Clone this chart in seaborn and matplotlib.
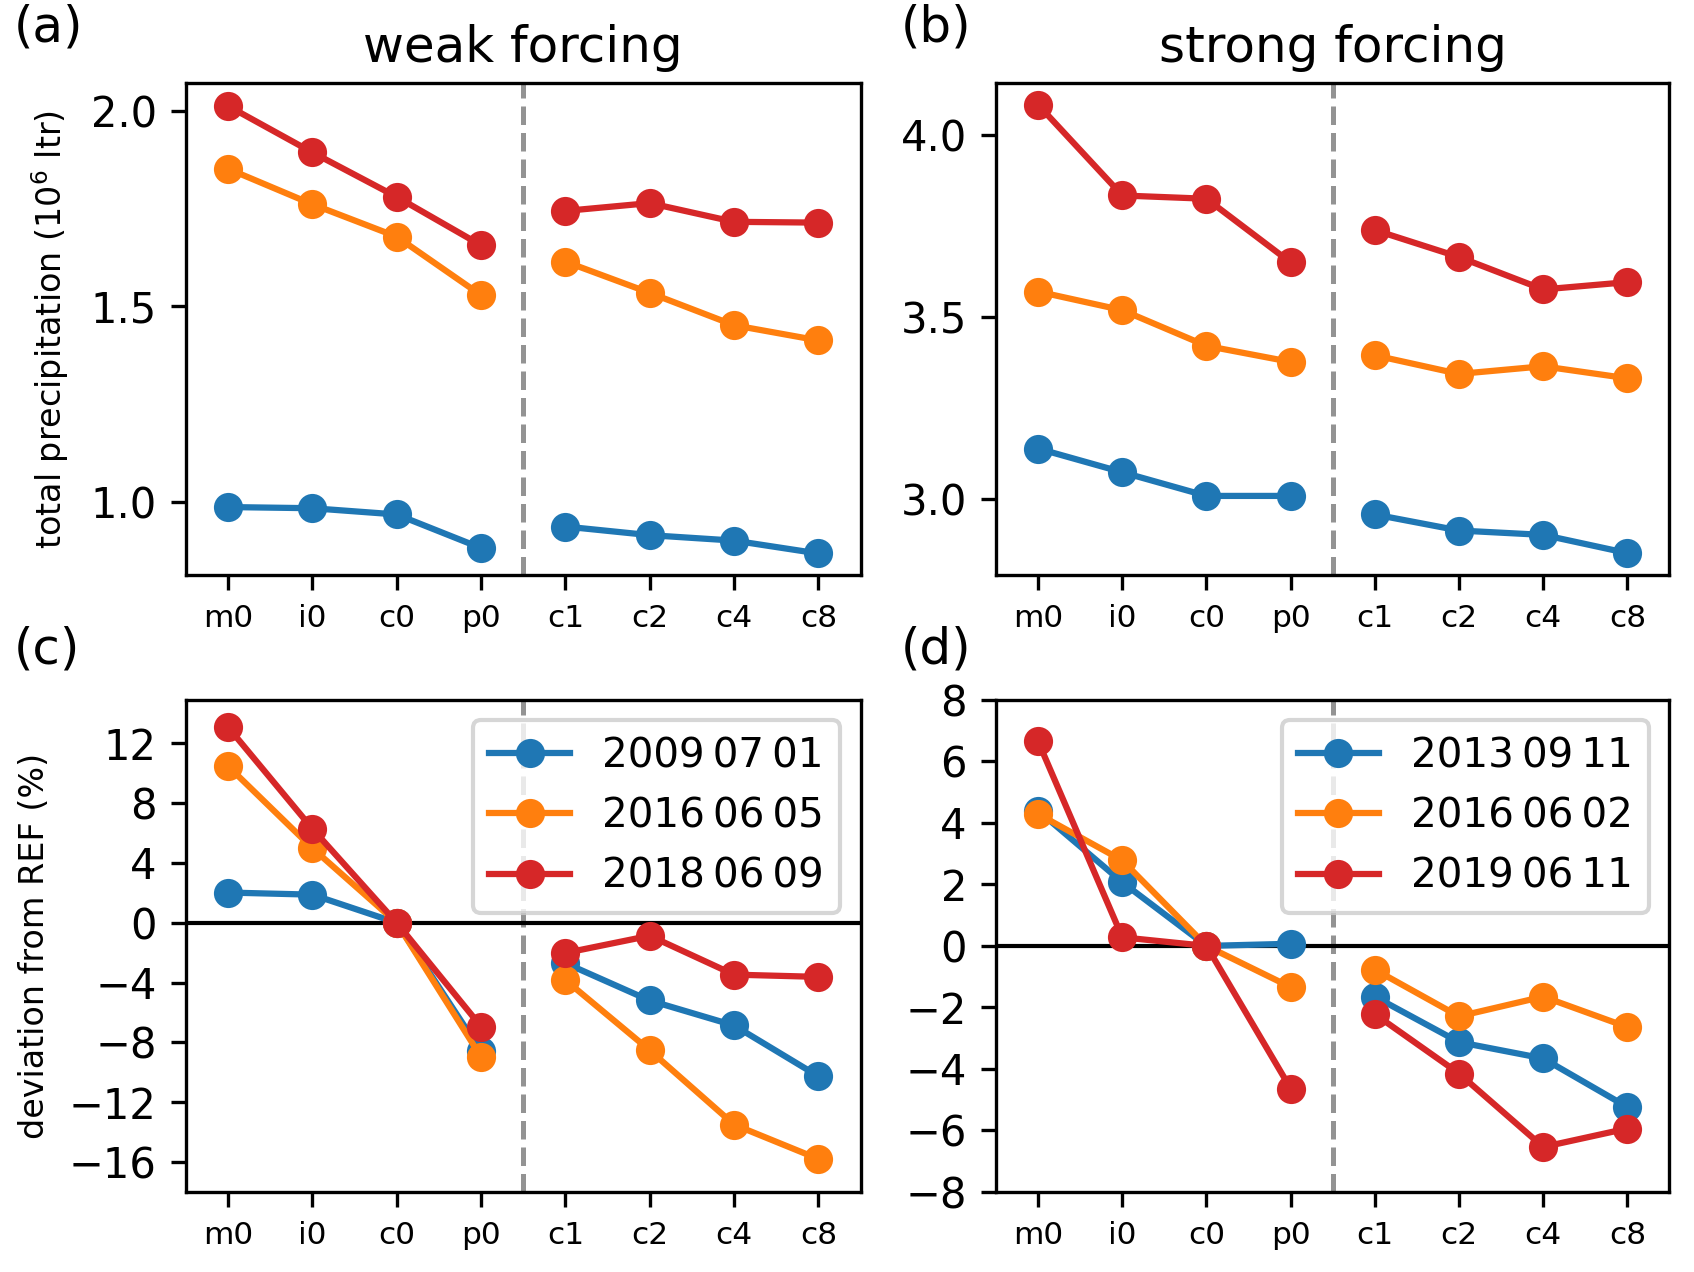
import matplotlib
matplotlib.use("Agg")
import matplotlib.pyplot as plt
import numpy as np
import pandas as pd
import seaborn as sns

# 실험 이름 (x축)
labels = ["m0", "i0", "c0", "p0", "c1", "c2", "c4", "c8"]
groups = [0, 0, 0, 0, 1, 1, 1, 1]  # p0 와 c1 사이 선 끊기

SP = "\u2009"  # 날짜 사이 좁은 공백
weak_dates = ["2009" + SP + "07" + SP + "01", "2016" + SP + "06" + SP + "05",
              "2018" + SP + "06" + SP + "09"]
strong_dates = ["2013" + SP + "09" + SP + "11", "2016" + SP + "06" + SP + "02",
                "2019" + SP + "06" + SP + "11"]

# total precipitation (10^6 ltr)
weak_total_1 = [0.986, 0.983, 0.967, 0.881, 0.936, 0.914, 0.900, 0.867]
weak_total_2 = [1.853, 1.762, 1.679, 1.529, 1.615, 1.535, 1.452, 1.413]
weak_total_3 = [2.014, 1.895, 1.781, 1.657, 1.745, 1.765, 1.717, 1.715]

strong_total_1 = [3.139, 3.074, 3.009, 3.009, 2.958, 2.914, 2.902, 2.852]
strong_total_2 = [3.570, 3.519, 3.421, 3.377, 3.395, 3.344, 3.365, 3.332]
strong_total_3 = [4.083, 3.834, 3.825, 3.650, 3.739, 3.665, 3.576, 3.596]

# deviation from REF (%)
weak_dev_1 = [2.02, 1.88, 0.0, -8.6, -2.7, -5.2, -6.87, -10.27]
weak_dev_2 = [10.48, 4.99, 0.0, -8.97, -3.83, -8.53, -13.5, -15.8]
weak_dev_3 = [13.09, 6.29, 0.0, -6.94, -2.02, -0.87, -3.47, -3.62]

strong_dev_1 = [4.4, 2.07, 0.0, 0.07, -1.65, -3.13, -3.66, -5.24]
strong_dev_2 = [4.29, 2.78, 0.0, -1.34, -0.77, -2.29, -1.65, -2.64]
strong_dev_3 = [6.65, 0.28, 0.0, -4.64, -2.22, -4.15, -6.54, -5.94]

colors = ["#1f77b4", "#ff7f0e", "#d62728"]


def make_df(dates, series):
    rows = []
    for d, vals in zip(dates, series):
        for i, v in enumerate(vals):
            rows.append({"date": d, "pos": i, "grp": groups[i], "val": v})
    return pd.DataFrame(rows)


def draw(ax, dates, series, show_legend):
    df = make_df(dates, series)
    sns.lineplot(data=df, x="pos", y="val", hue="date", hue_order=dates,
                 units="grp", estimator=None, palette=colors, marker="o",
                 markersize=7, markeredgewidth=0, linewidth=1.5,
                 legend=show_legend, ax=ax)
    ax.axvline(3.5, color="gray", ls="--", lw=1.2, alpha=0.85, zorder=0)
    ax.set_xlim(-0.5, 7.5)
    ax.set_xticks(np.arange(len(labels)))
    ax.set_xticklabels(labels)
    ax.tick_params(axis="x", labelsize=7.5)
    ax.tick_params(axis="y", labelsize=10)
    ax.set_xlabel("")
    ax.set_ylabel("")
    if show_legend:
        ax.legend(loc="upper right", fontsize=9.7, title=None)


plt.rcParams["font.family"] = ["DejaVu Sans"]
fig = plt.figure(figsize=(1694 / 300, 1272 / 300), dpi=300)

L1, R1, L2, R2 = 0.1097, 0.508, 0.588, 0.9855
B1, T1, B2, T2 = 0.548, 0.9345, 0.063, 0.4497
ax_a = fig.add_axes([L1, B1, R1 - L1, T1 - B1])
ax_b = fig.add_axes([L2, B1, R2 - L2, T1 - B1])
ax_c = fig.add_axes([L1, B2, R1 - L1, T2 - B2])
ax_d = fig.add_axes([L2, B2, R2 - L2, T2 - B2])

draw(ax_a, weak_dates, [weak_total_1, weak_total_2, weak_total_3], False)
draw(ax_b, strong_dates, [strong_total_1, strong_total_2, strong_total_3], False)
draw(ax_c, weak_dates, [weak_dev_1, weak_dev_2, weak_dev_3], True)
draw(ax_d, strong_dates, [strong_dev_1, strong_dev_2, strong_dev_3], True)

ax_a.set_ylim(0.812, 2.072)
ax_a.set_yticks([1.0, 1.5, 2.0])
ax_b.set_ylim(2.792, 4.142)
ax_b.set_yticks([3.0, 3.5, 4.0])
ax_c.set_ylim(-18.0, 14.9)
ax_c.set_yticks(np.arange(-16, 13, 4))
ax_d.set_ylim(-8, 8)
ax_d.set_yticks(np.arange(-8, 9, 2))

for ax in (ax_c, ax_d):
    ax.axhline(0, color="black", lw=1.0, zorder=1)

ax_a.set_title("weak forcing", fontsize=12, pad=5)
ax_b.set_title("strong forcing", fontsize=12, pad=5)
ax_a.set_ylabel("total precipitation (10$^6$ ltr)", fontsize=8, labelpad=4.6)
ax_c.set_ylabel("deviation from REF (%)", fontsize=8, labelpad=4.3)

fig.text(0.008, 0.997, "(a)", fontsize=12, va="top")
fig.text(0.532, 0.997, "(b)", fontsize=12, va="top")
fig.text(0.008, 0.508, "(c)", fontsize=12, va="top")
fig.text(0.532, 0.508, "(d)", fontsize=12, va="top")

fig.savefig("out.png", dpi=300)
